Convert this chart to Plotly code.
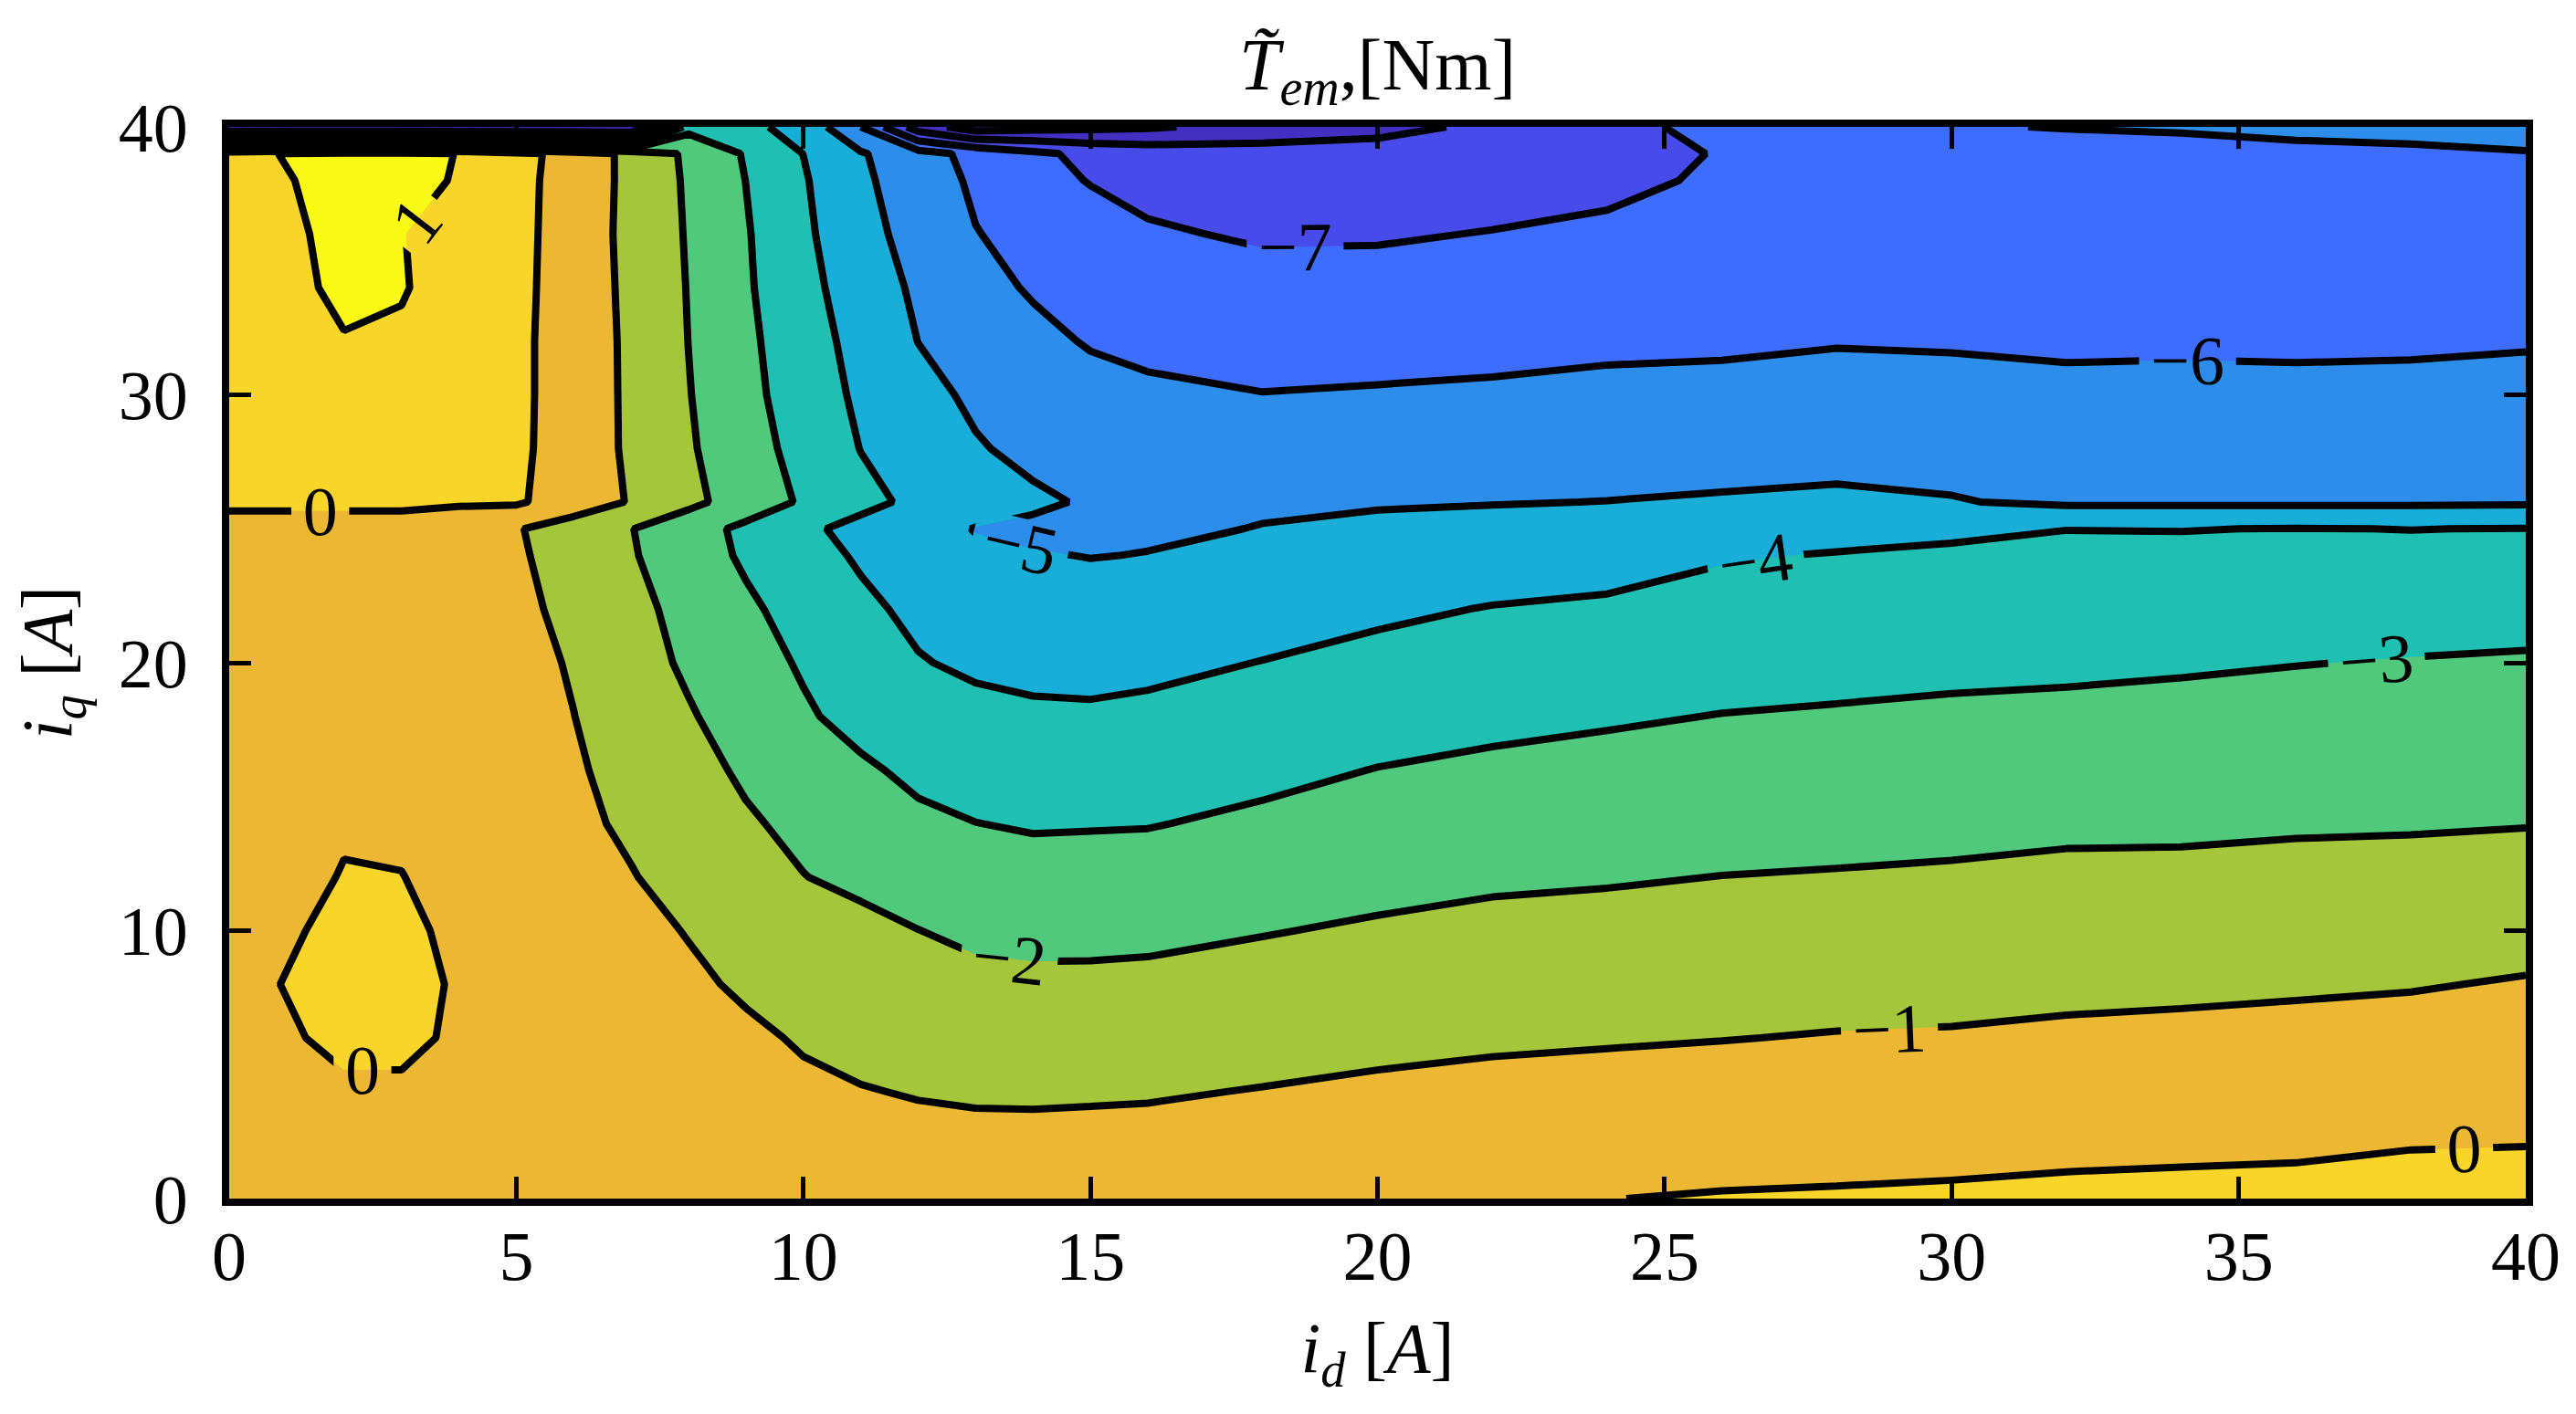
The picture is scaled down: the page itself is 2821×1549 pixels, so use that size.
import plotly.graph_objects as go

# i_d grid (columns) and i_q grid (rows) in A
id_vals = [0, 1, 2, 3, 4, 5, 6, 7, 8, 9, 10, 11, 12, 13, 14, 15, 16, 18, 20, 22, 24, 26, 28, 30, 32, 34, 36, 38, 40]
iq_vals = [0, 2, 4, 6, 8, 10, 12, 14, 16, 18, 20, 22, 24, 25, 26, 28, 30, 32, 34, 36, 38, 39, 40]

# torque values (Nm), one list per i_d column (bottom -> top in i_q)
col_id00 = [-0.5, -0.45, -0.4, -0.4, -0.4, -0.4, -0.35, -0.35, -0.3, -0.3, -0.3, -0.25, -0.2, -0.1, 0.05, 0.2, 0.3, 0.4, 0.5, 0.6, 0.75, 0.7, -11]
col_id01 = [-0.5, -0.4, -0.35, -0.15, 0.05, -0.15, -0.3, -0.3, -0.3, -0.3, -0.25, -0.25, -0.2, -0.1, 0.05, 0.25, 0.4, 0.6, 0.75, 0.8, 0.95, 1.05, -11]
col_id02 = [-0.5, -0.4, -0.2, 0.3, 0.35, 0.3, 0.05, -0.1, -0.25, -0.3, -0.3, -0.25, -0.2, -0.1, 0.05, 0.3, 0.5, 0.95, 1.2, 1.3, 1.3, 1.25, -11]
col_id03 = [-0.5, -0.4, -0.2, 0.3, 0.3, 0.2, 0.02, -0.15, -0.25, -0.3, -0.3, -0.3, -0.2, -0.1, 0.05, 0.25, 0.45, 0.9, 1.05, 1.02, 1.2, 1.2, -11]
col_id04 = [-0.5, -0.45, -0.35, -0.2, -0.1, -0.2, -0.3, -0.35, -0.35, -0.35, -0.35, -0.35, -0.25, -0.15, 0.03, 0.25, 0.35, 0.55, 0.7, 0.75, 0.95, 0.98, -11]
col_id05 = [-0.55, -0.5, -0.5, -0.45, -0.45, -0.45, -0.5, -0.55, -0.6, -0.65, -0.7, -0.8, -0.88, -0.93, 0.12, 0.2, 0.22, 0.22, 0.25, 0.28, 0.3, 0.35, -11]
col_id06 = [-0.6, -0.6, -0.6, -0.62, -0.65, -0.7, -0.76, -0.83, -0.9, -0.99, -1.08, -1.22, -1.38, -1.45, -0.47, -0.47, -0.47, -0.47, -0.46, -0.46, -0.44, -0.42, -11]
col_id07 = [-0.55, -0.55, -0.55, -0.6, -0.65, -0.76, -0.96, -1.13, -1.28, -1.44, -1.63, -1.74, -1.92, -1.97, -1.07, -1.15, -1.16, -1.17, -1.21, -1.25, -1.23, -1.24, -11]
col_id08 = [-0.56, -0.58, -0.62, -0.7, -0.85, -1.04, -1.29, -1.52, -1.72, -1.92, -2.14, -2.29, -2.53, -2.59, -1.76, -1.89, -1.96, -2.01, -2.04, -2.08, -2.13, -2.18, -3.3]
col_id09 = [-0.58, -0.62, -0.72, -0.85, -1.12, -1.28, -1.63, -1.9, -2.13, -2.4, -2.62, -2.84, -3.14, -3.21, -2.45, -2.61, -2.73, -2.8, -2.88, -2.92, -3.01, -3.09, -3.8]
col_id10 = [-0.6, -0.7, -0.85, -1.08, -1.25, -1.52, -1.98, -2.2, -2.49, -2.88, -3.1, -3.35, -3.68, -3.82, -3.12, -3.32, -3.48, -3.58, -3.71, -3.82, -3.91, -4.01, -4.3]
col_id11 = [-0.6, -0.78, -0.97, -1.2, -1.45, -1.76, -2.2, -2.47, -2.86, -3.3, -3.58, -3.83, -4.1, -4.27, -3.75, -4.02, -4.17, -4.31, -4.48, -4.67, -4.82, -4.91, -6.0]
col_id12 = [-0.58, -0.8, -1.04, -1.33, -1.62, -1.99, -2.4, -2.82, -3.2, -3.62, -3.95, -4.18, -4.33, -4.67, -4.2, -4.48, -4.74, -5.01, -5.16, -5.36, -5.53, -5.64, -8.5]
col_id13 = [-0.5, -0.78, -1.1, -1.45, -1.79, -2.17, -2.58, -2.99, -3.38, -3.77, -4.14, -4.5, -4.86, -5.03, -4.53, -4.93, -5.15, -5.37, -5.68, -5.97, -6.14, -6.26, -9.5]
col_id14 = [-0.45, -0.76, -1.12, -1.47, -1.83, -2.23, -2.66, -3.08, -3.47, -3.86, -4.23, -4.59, -4.95, -5.15, -4.87, -5.2, -5.45, -5.74, -6.1, -6.26, -6.62, -6.79, -9.3]
col_id15 = [-0.45, -0.74, -1.1, -1.46, -1.83, -2.22, -2.64, -3.06, -3.47, -3.88, -4.26, -4.64, -5.02, -5.12, -5.08, -5.35, -5.65, -6.08, -6.3, -6.53, -7.05, -7.25, -9.2]
col_id16 = [-0.45, -0.75, -1.07, -1.44, -1.8, -2.19, -2.62, -3.04, -3.42, -3.81, -4.2, -4.59, -4.98, -5.1, -5.15, -5.5, -5.85, -6.2, -6.55, -6.9, -7.25, -7.45, -9.1]
col_id18 = [-0.4, -0.7, -0.97, -1.32, -1.68, -2.04, -2.44, -2.84, -3.21, -3.6, -3.98, -4.38, -4.78, -4.98, -5.08, -5.5, -5.98, -6.35, -6.7, -7.1, -7.5, -7.55, -8.7]
col_id20 = [-0.25, -0.55, -0.86, -1.21, -1.55, -1.9, -2.25, -2.62, -2.98, -3.37, -3.75, -4.16, -4.63, -4.86, -5.06, -5.45, -5.93, -6.3, -6.7, -7.08, -7.5, -7.6, -8.3]
col_id22 = [-0.12, -0.45, -0.78, -1.12, -1.45, -1.78, -2.13, -2.48, -2.84, -3.21, -3.58, -3.96, -4.49, -4.76, -5.03, -5.45, -5.9, -6.2, -6.6, -6.97, -7.35, -7.45, -7.8]
col_id24 = [-0.01, -0.36, -0.72, -1.07, -1.4, -1.73, -2.07, -2.41, -2.75, -3.09, -3.47, -3.85, -4.38, -4.69, -4.99, -5.4, -5.85, -6.12, -6.45, -6.8, -7.25, -7.3, -7.4]
col_id26 = [0.05, -0.3, -0.67, -1.02, -1.35, -1.67, -1.99, -2.33, -2.66, -2.98, -3.32, -3.68, -4.07, -4.5, -4.92, -5.35, -5.82, -6.1, -6.4, -6.65, -6.85, -6.95, -6.6]
col_id28 = [0.08, -0.26, -0.61, -0.96, -1.28, -1.62, -1.95, -2.26, -2.6, -2.92, -3.26, -3.6, -3.95, -4.3, -4.85, -5.3, -5.8, -6.03, -6.3, -6.5, -6.7, -6.8, -6.3]
col_id30 = [0.12, -0.23, -0.58, -0.93, -1.26, -1.58, -1.9, -2.22, -2.54, -2.86, -3.19, -3.54, -3.93, -4.08, -4.95, -5.35, -5.82, -6.05, -6.25, -6.4, -6.6, -6.7, -6.1]
col_id32 = [0.17, -0.17, -0.52, -0.86, -1.19, -1.51, -1.83, -2.15, -2.48, -2.82, -3.15, -3.49, -3.83, -4.01, -5.15, -5.45, -5.85, -6.1, -6.25, -6.4, -6.55, -6.6, -5.95]
col_id34 = [0.2, -0.14, -0.48, -0.82, -1.15, -1.48, -1.82, -2.14, -2.45, -2.77, -3.09, -3.45, -3.83, -4.02, -5.15, -5.45, -5.85, -6.08, -6.22, -6.35, -6.45, -6.5, -5.85]
col_id36 = [0.22, -0.11, -0.44, -0.77, -1.1, -1.43, -1.77, -2.09, -2.4, -2.71, -3.02, -3.4, -3.79, -3.98, -5.15, -5.45, -5.85, -6.1, -6.2, -6.3, -6.4, -6.3, -5.7]
col_id38 = [0.3, -0.03, -0.37, -0.71, -1.05, -1.4, -1.74, -2.07, -2.37, -2.66, -2.96, -3.33, -3.8, -4.01, -5.15, -5.45, -5.85, -6.08, -6.2, -6.28, -6.3, -6.2, -5.65]
col_id40 = [0.32, -0.01, -0.31, -0.63, -0.94, -1.3, -1.67, -2.03, -2.32, -2.62, -2.91, -3.3, -3.78, -3.98, -5.12, -5.4, -5.8, -6.05, -6.15, -6.2, -6.2, -6.05, -5.6]

columns = [col_id00, col_id01, col_id02, col_id03, col_id04, col_id05, col_id06, col_id07,
           col_id08, col_id09, col_id10, col_id11, col_id12, col_id13, col_id14, col_id15,
           col_id16, col_id18, col_id20, col_id22, col_id24, col_id26, col_id28, col_id30,
           col_id32, col_id34, col_id36, col_id38, col_id40]
z = [list(row) for row in zip(*columns)]

# contour levels and band colours (parula-like), lowest band first
level_start, level_end, level_step = -9, 1, 1
band_colors = ["#3e26a8", "#4330c2", "#464bea", "#3e6dfd", "#2c8eea", "#18aed8",
               "#1fbfb1", "#50c97c", "#a5c63b", "#ecb834", "#f9d52a", "#f8fa13"]
x_ticks = [0, 5, 10, 15, 20, 25, 30, 35, 40]
y_ticks = [0, 10, 20, 30, 40]

nb = len(band_colors) - 1
colorscale = [[k / nb, c] for k, c in enumerate(band_colors)]

FONT = "Liberation Serif"

fig = go.Figure(go.Contour(
    x=id_vals, y=iq_vals, z=z,
    autocontour=False,
    contours=dict(start=level_start, end=level_end, size=level_step,
                  coloring="fill", showlabels=True,
                  labelfont=dict(family=FONT, size=76, color="black")),
    zmin=level_start - 0.5, zmax=level_end + 0.5,
    colorscale=colorscale, showscale=False,
    line=dict(color="black", width=8, smoothing=0),
    hoverinfo="skip",
))

axis_common = dict(
    showline=True, linewidth=8, linecolor="black", mirror="ticks",
    ticks="inside", ticklen=24, tickwidth=5, tickcolor="black",
    showgrid=False, zeroline=False,
    tickfont=dict(family=FONT, size=76, color="black"),
)

fig.update_layout(
    width=2821, height=1549,
    margin=dict(l=243, r=63, t=131, b=244),
    paper_bgcolor="white", plot_bgcolor="white",
    title=dict(text="<i>T\u0303</i><sub><i>em</i></sub>,[Nm]",
               x=0.5, xref="paper", xanchor="center",
               y=1 - 62 / 1549, yref="container", yanchor="middle",
               font=dict(family=FONT, size=80, color="black")),
    xaxis=dict(range=[0, 40], tickvals=x_ticks, ticklabelstandoff=-10,
               title=dict(text="<i>i<sub>d</sub></i> [<i>A</i>]", standoff=34,
                          font=dict(family=FONT, size=78, color="black")),
               **axis_common),
    yaxis=dict(range=[0, 40], tickvals=y_ticks, ticklabelstandoff=22,
               title=dict(text="<i>i<sub>q</sub></i> [<i>A</i>]", standoff=30,
                          font=dict(family=FONT, size=78, color="black")),
               **axis_common),
)

fig.write_html("out.html")
